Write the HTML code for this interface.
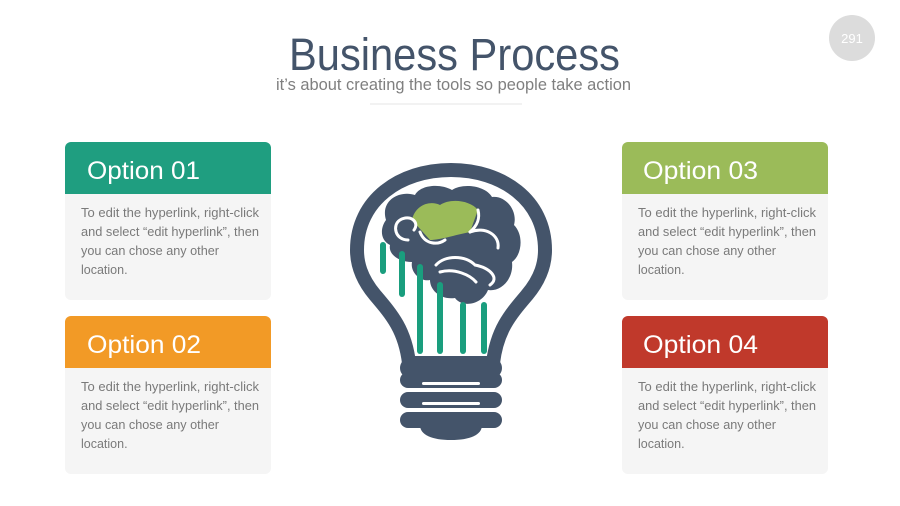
<!DOCTYPE html>
<html><head><meta charset="utf-8"><style>
html,body{margin:0;padding:0;background:#fff;width:900px;height:506px;overflow:hidden}
svg{display:block;font-family:"Liberation Sans",sans-serif}
</style></head><body>
<svg width="900" height="506" viewBox="0 0 900 506" xmlns="http://www.w3.org/2000/svg">
<circle cx="852" cy="38" r="23" fill="#dcdcdc"/>
<text x="852" y="43" font-size="13" fill="#fff" text-anchor="middle">291</text>
<text x="289" y="70" font-size="45" fill="#44546a" textLength="331" lengthAdjust="spacingAndGlyphs">Business Process</text>
<text x="276" y="90" font-size="16.5" fill="#7f7f7f" textLength="355" lengthAdjust="spacingAndGlyphs">it’s about creating the tools so people take action</text>
<line x1="370" y1="104" x2="522" y2="104" stroke="#e6e6e6" stroke-width="1"/>

<!-- cards -->
<g id="c1">
<rect x="65" y="142" width="206" height="158" rx="6" fill="#f5f5f5"/>
<path d="M65 194 V148 a6 6 0 0 1 6-6 H265 a6 6 0 0 1 6 6 V194 Z" fill="#1f9e80"/>
<text x="87" y="179" font-size="25" fill="#fff" textLength="113" lengthAdjust="spacingAndGlyphs">Option 01</text>
<g font-size="12.5" fill="#7a7a7a">
<text x="81" y="217" textLength="178" lengthAdjust="spacingAndGlyphs">To edit the hyperlink, right-click</text>
<text x="81" y="236" textLength="178" lengthAdjust="spacingAndGlyphs">and select “edit hyperlink”, then</text>
<text x="81" y="255" textLength="138" lengthAdjust="spacingAndGlyphs">you can chose any other</text>
<text x="81" y="274">location.</text></g>
</g>
<g>
<rect x="65" y="316" width="206" height="158" rx="6" fill="#f5f5f5"/>
<path d="M65 368 V322 a6 6 0 0 1 6-6 H265 a6 6 0 0 1 6 6 V368 Z" fill="#f29a26"/>
<text x="87" y="353" font-size="25" fill="#fff" textLength="114" lengthAdjust="spacingAndGlyphs">Option 02</text>
<g font-size="12.5" fill="#7a7a7a">
<text x="81" y="391" textLength="178" lengthAdjust="spacingAndGlyphs">To edit the hyperlink, right-click</text>
<text x="81" y="410" textLength="178" lengthAdjust="spacingAndGlyphs">and select “edit hyperlink”, then</text>
<text x="81" y="429" textLength="138" lengthAdjust="spacingAndGlyphs">you can chose any other</text>
<text x="81" y="448">location.</text></g>
</g>
<g>
<rect x="622" y="142" width="206" height="158" rx="6" fill="#f5f5f5"/>
<path d="M622 194 V148 a6 6 0 0 1 6-6 H822 a6 6 0 0 1 6 6 V194 Z" fill="#9bbb59"/>
<text x="643" y="179" font-size="25" fill="#fff" textLength="115" lengthAdjust="spacingAndGlyphs">Option 03</text>
<g font-size="12.5" fill="#7a7a7a">
<text x="638" y="217" textLength="178" lengthAdjust="spacingAndGlyphs">To edit the hyperlink, right-click</text>
<text x="638" y="236" textLength="178" lengthAdjust="spacingAndGlyphs">and select “edit hyperlink”, then</text>
<text x="638" y="255" textLength="138" lengthAdjust="spacingAndGlyphs">you can chose any other</text>
<text x="638" y="274">location.</text></g>
</g>
<g>
<rect x="622" y="316" width="206" height="158" rx="6" fill="#f5f5f5"/>
<path d="M622 368 V322 a6 6 0 0 1 6-6 H822 a6 6 0 0 1 6 6 V368 Z" fill="#c0392b"/>
<text x="643" y="353" font-size="25" fill="#fff" textLength="115" lengthAdjust="spacingAndGlyphs">Option 04</text>
<g font-size="12.5" fill="#7a7a7a">
<text x="638" y="391" textLength="178" lengthAdjust="spacingAndGlyphs">To edit the hyperlink, right-click</text>
<text x="638" y="410" textLength="178" lengthAdjust="spacingAndGlyphs">and select “edit hyperlink”, then</text>
<text x="638" y="429" textLength="138" lengthAdjust="spacingAndGlyphs">you can chose any other</text>
<text x="638" y="448">location.</text></g>
</g>

<!-- bulb -->
<g fill="none" stroke="#44546a" stroke-width="14" stroke-linejoin="round">
<path d="M409 363 C405 330 392 315 375 295 C360 277 357 262 357 250 C357 200 400 170 451 170 C502 170 545 200 545 250 C545 262 542 277 527 295 C510 315 497 330 493 363 Z"/>
</g>
<rect x="400" y="358" width="102" height="20" rx="10" fill="#44546a"/>
<rect x="400" y="372" width="102" height="16" rx="8" fill="#44546a"/>
<rect x="400" y="392" width="102" height="16" rx="8" fill="#44546a"/>
<rect x="400" y="412" width="102" height="16" rx="8" fill="#44546a"/>
<path d="M420 425 H482 C482 435 470 440 451 440 C432 440 420 435 420 425 Z" fill="#44546a"/>
<rect x="422" y="382" width="58" height="3" rx="1.5" fill="#fff"/>
<rect x="422" y="402" width="58" height="3" rx="1.5" fill="#fff"/>

<!-- brain -->
<path d="M386 220 C380 200 400 190 415 195 C420 185 440 183 452 190 C462 183 485 185 492 197 C505 195 518 210 514 225 C524 235 522 255 512 262 C514 280 500 292 488 290 C482 305 462 308 455 298 C440 300 430 290 430 280 C420 282 410 272 412 262 C400 262 388 255 390 245 C380 240 380 228 386 220 Z" fill="#44546a"/>
<path d="M412 220 C415 205 430 200 440 205 C450 198 470 200 478 210 L470 232 C455 235 440 240 430 240 Z" fill="#9bbb59"/>
<g fill="none" stroke="#fff" stroke-width="3" stroke-linecap="round">
<path d="M408 240 C395 240 392 225 400 220 C410 214 420 222 414 230"/>
<path d="M420 232 C425 245 438 245 445 240"/>
<path d="M470 232 C485 226 500 235 498 248"/>
<path d="M436 265 C445 255 465 255 475 265 C490 268 500 278 490 285"/>
<path d="M440 272 C455 268 470 275 476 282"/>
<path d="M478 210 C480 218 478 225 470 232"/>
</g>
<!-- bars -->
<g stroke="#1a9e7e" stroke-width="6" stroke-linecap="round">
<line x1="383" y1="245" x2="383" y2="271"/>
<line x1="402" y1="254" x2="402" y2="294"/>
<line x1="420" y1="267" x2="420" y2="351"/>
<line x1="440" y1="285" x2="440" y2="351"/>
<line x1="463" y1="305" x2="463" y2="351"/>
<line x1="484" y1="305" x2="484" y2="351"/>
</g>
</svg>
</body></html>
